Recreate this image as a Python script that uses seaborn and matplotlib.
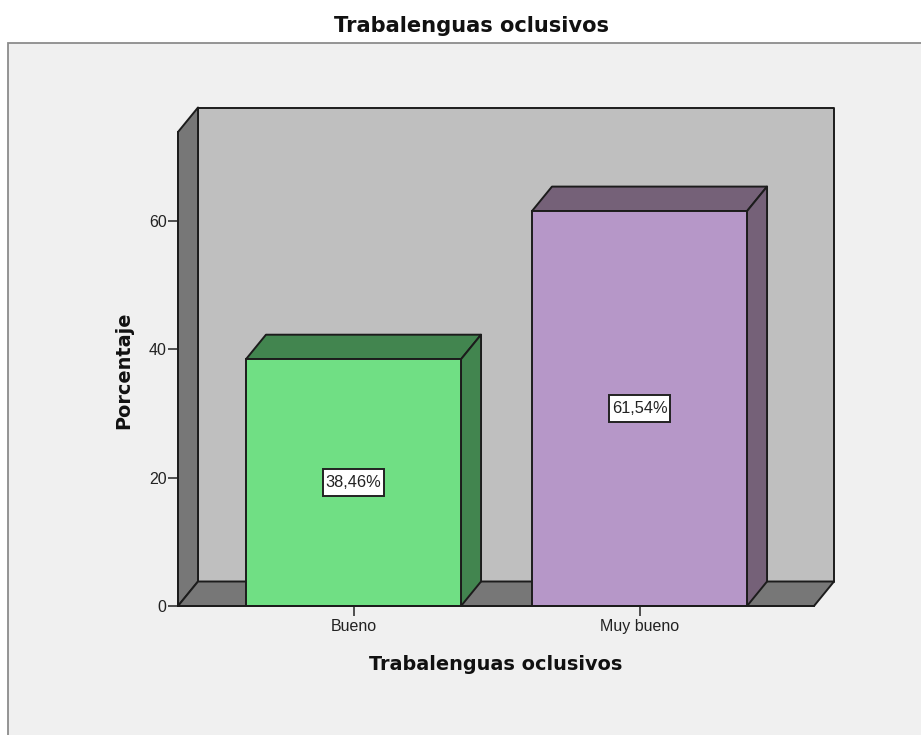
import matplotlib
matplotlib.use("Agg")
import matplotlib.pyplot as plt
from matplotlib.patches import Polygon, Rectangle
import pandas as pd
import seaborn as sns

categories = ["Bueno", "Muy bueno"]
percentages = [38.46, 61.54]
value_labels = ["38,46%", "61,54%"]
y_ticks = [0, 20, 40, 60]
title = "Trabalenguas oclusivos"

FACE = ["#70DF84", "#B697C8"]
DARK = ["#42854F", "#756178"]
W, H = 921, 735

sns.set_theme(style="white")
plt.rcParams["font.family"] = ["Liberation Sans", "DejaVu Sans"]

fig = plt.figure(figsize=(W / 100, H / 100), dpi=100, facecolor="white")

# outer panel, runs off the right and bottom of the picture
fig.add_artist(Rectangle((8 / W, -0.1), 1.1, (H - 43) / H + 0.1, transform=fig.transFigure,
                         fc="#F0F0F0", ec="#8C8C8C", lw=1.3, zorder=-1))

# front plane of the chart box in pixels
left, right, bottom, top = 178, 814, 606, 132
ax = fig.add_axes([left / W, (H - bottom) / H, (right - left) / W, (bottom - top) / H])
ax.patch.set_visible(False)

df = pd.DataFrame({"cat": categories, "pct": percentages})
sns.barplot(data=df, x="cat", y="pct", hue="cat", palette=FACE, legend=False,
            width=0.752, edgecolor="#1c1c1c", linewidth=1.4, saturation=1, ax=ax, zorder=5)

ax.set_xlim((left - 353.5) / 286, (right - 353.5) / 286)
ax.set_ylim(0, (bottom - top) / 6.417)

# depth of the 3D effect, data units
dx = 20 / 286
dy = 24.5 / 6.417
# size of the value label box, data units
box_w = 61 / 286
box_h = 27 / 6.417
x0, x1 = ax.get_xlim()
y0, y1 = ax.get_ylim()
EDGE = "#1c1c1c"


def face(points, color, z):
    ax.add_patch(Polygon(points, closed=True, fc=color, ec=EDGE, lw=1.4,
                         joinstyle="round", clip_on=False, zorder=z))


# ─── box walls ─────────────────────────────
face([(x0 + dx, y0 + dy), (x1 + dx, y0 + dy), (x1 + dx, y1 + dy), (x0 + dx, y1 + dy)], "#BFBFBF", 1)
face([(x0, y0), (x0 + dx, y0 + dy), (x0 + dx, y1 + dy), (x0, y1)], "#777777", 2)
face([(x0, y0), (x1, y0), (x1 + dx, y0 + dy), (x0 + dx, y0 + dy)], "#777777", 2)

# ─── bar sides and value labels ────────────
for bar, dark, label in zip(ax.patches[:2], DARK, value_labels):
    a = bar.get_x()
    b = a + bar.get_width()
    h = bar.get_height()
    mid = a + bar.get_width() / 2
    face([(a, h), (b, h), (b + dx, h + dy), (a + dx, h + dy)], dark, 4)
    face([(b, 0), (b + dx, dy), (b + dx, h + dy), (b, h)], dark, 4)
    ax.add_patch(Rectangle((mid - box_w / 2, h / 2 - box_h / 2), box_w, box_h,
                           fc="white", ec="#222222", lw=1.4, zorder=6.5))
    ax.text(mid, h / 2, label, ha="center", va="center", fontsize=11.8,
            color="#222222", zorder=7)

ax.set_yticks(y_ticks)
ax.set_xticks(range(len(categories)), categories)
ax.tick_params(axis="y", length=7.2, width=1.2, color="#333333", labelsize=11.5,
               labelcolor="#222222", pad=1, left=True)
ax.tick_params(axis="x", length=7.5, width=1.2, color="#333333", labelsize=11.5,
               labelcolor="#222222", pad=2, bottom=True)
sns.despine(ax=ax, top=True, right=True)
for s in ("left", "bottom"):
    ax.spines[s].set_color(EDGE)
    ax.spines[s].set_linewidth(1.4)
    ax.spines[s].set_zorder(6)

ax.set_xlabel("")
ax.set_ylabel("")
lab = dict(fontsize=13.9, fontweight="bold", color="#111111", ha="center", va="center",
           family="DejaVu Sans")
fig.text(496 / W, 1 - 664 / H, title, **lab)
fig.text(124 / W, 1 - 370 / H, "Porcentaje", rotation=90, **lab)
fig.text(471 / W, 1 - 26 / H, title, fontsize=15.1, fontweight="bold", color="#111111",
         ha="center", va="center", family="DejaVu Sans")

fig.savefig("out.png", dpi=100, facecolor="white")
